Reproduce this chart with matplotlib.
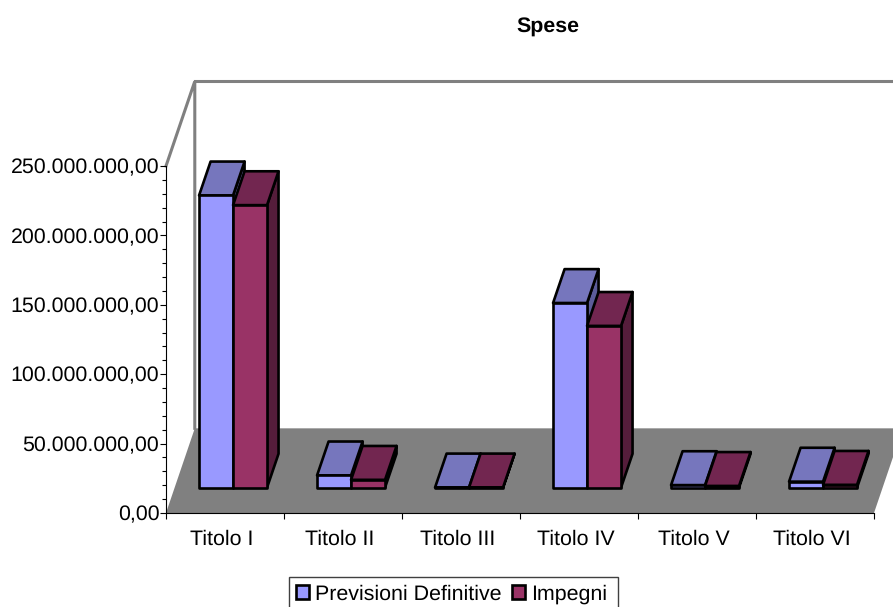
import matplotlib as mpl
mpl.use("Agg")
import matplotlib.pyplot as plt
from matplotlib.patches import Patch, Polygon, Rectangle
from matplotlib.ticker import FuncFormatter, MultipleLocator

categories = ["Titolo I", "Titolo II", "Titolo III", "Titolo IV", "Titolo V", "Titolo VI"]
previsioni = [210500000, 8800000, 100000, 133000000, 1800000, 4300000]
impegni = [203500000, 5600000, 100000, 116500000, 1200000, 2000000]
series_names = ["Previsioni Definitive", "Impegni"]

plt.rcParams["font.family"] = ["Liberation Sans", "DejaVu Sans"]
plt.rcParams["font.size"] = 15.4
plt.rcParams["text.hinting"] = "no_hinting"

GREY = "#808080"
# front, top, side
COLORS = [("#9999ff", "#7676bd", "#5c5c99"), ("#993366", "#722650", "#551d3b")]
DEPTH_X = 0.244  # in categories
DEPTH_Y = 61000000  # in axis units
BAR_W = 0.288
NEAR, FAR = 0.30, 0.70  # bar position inside the floor depth
W, H = 893, 607


def euro(v, pos):
    s = f"{v:,.2f}"
    return s.replace(",", "#").replace(".", ",").replace("#", ".")


def face(ax, pts, color, lw=1.9):
    ax.add_patch(Polygon(pts, closed=True, facecolor=color, edgecolor="black",
                         linewidth=lw, joinstyle="round", clip_on=False, zorder=3))


def bar3d(ax, x, value, colors):
    # front plane of the bar sits NEAR of the way into the floor
    x0 = x + NEAR * DEPTH_X
    y0 = NEAR * DEPTH_Y
    y1 = y0 + value
    w = BAR_W
    dx = (FAR - NEAR) * DEPTH_X
    dy = (FAR - NEAR) * DEPTH_Y
    face(ax, [(x0 + w, y0), (x0 + w + dx, y0 + dy), (x0 + w + dx, y1 + dy), (x0 + w, y1)], colors[2])
    face(ax, [(x0, y1), (x0 + dx, y1 + dy), (x0 + w + dx, y1 + dy), (x0 + w, y1)], colors[1])
    face(ax, [(x0, y0), (x0 + w, y0), (x0 + w, y1), (x0, y1)], colors[0])


def plot(ax):
    n = len(categories)
    ax.set_xlim(0, n)
    ax.set_ylim(0, 250000000)

    # floor and walls
    ax.add_patch(Polygon([(0, 0), (n, 0), (n + DEPTH_X, DEPTH_Y), (DEPTH_X, DEPTH_Y)],
                         closed=True, facecolor=GREY, edgecolor="none", clip_on=False, zorder=1))
    top = 250000000 + DEPTH_Y
    ax.plot([0, DEPTH_X, DEPTH_X], [250000000, top, DEPTH_Y], color=GREY, lw=2.2,
            clip_on=False, zorder=1, solid_joinstyle="miter")
    ax.plot([DEPTH_X, n + DEPTH_X], [top, top], color=GREY, lw=2.2, clip_on=False, zorder=1)

    for i in range(n):
        left = i + (1 - 2 * BAR_W) / 2 - 0.005
        bar3d(ax, left, previsioni[i], COLORS[0])
        bar3d(ax, left + BAR_W, impegni[i], COLORS[1])

    for side in ("top", "right"):
        ax.spines[side].set_visible(False)
    ax.spines["left"].set_zorder(2)
    ax.spines["bottom"].set_zorder(2)

    ax.yaxis.set_major_locator(MultipleLocator(50000000))
    ax.yaxis.set_minor_locator(MultipleLocator(10000000))
    ax.yaxis.set_major_formatter(FuncFormatter(euro))
    ax.tick_params(axis="y", which="major", length=4.3, width=0.8, pad=0.5)
    ax.tick_params(axis="y", which="minor", length=2.8, width=0.8)

    ax.set_xticks(range(n + 1))
    ax.set_xticklabels([])
    ax.set_xticks([i + 0.47 for i in range(n)], labels=categories, minor=True)
    ax.tick_params(axis="x", which="major", length=4.3, width=0.8)
    ax.tick_params(axis="x", which="minor", length=0, pad=12)


if __name__ == "__main__":
    fig = plt.figure(figsize=(W / 100, H / 100), dpi=100)
    ax = fig.add_axes([166 / W, 1 - 513 / H, 708 / W, 347 / H])
    ax.patch.set_visible(False)
    plot(ax)

    fig.text(548 / W, 1 - 27 / H, "Spese", ha="center", va="center",
             fontweight="bold", fontsize=15.4)

    # legend frame runs off the bottom of the picture
    fig.add_artist(Rectangle((289 / W, 1 - 612 / H), 329 / W, 35 / H, transform=fig.transFigure,
                             facecolor="white", edgecolor="#404040", linewidth=1.0))
    handles = [Patch(facecolor=COLORS[k][0], edgecolor="black", linewidth=1.9, label=series_names[k])
               for k in range(2)]
    fig.legend(handles=handles, loc="center left", bbox_to_anchor=(288.5 / W, 1 - 594 / H),
               ncol=2, frameon=False,
               handlelength=0.62, handleheight=0.62, handletextpad=0.27, columnspacing=0.48,
               borderpad=0.35, borderaxespad=0)

    plt.savefig("out.png", dpi=100)
